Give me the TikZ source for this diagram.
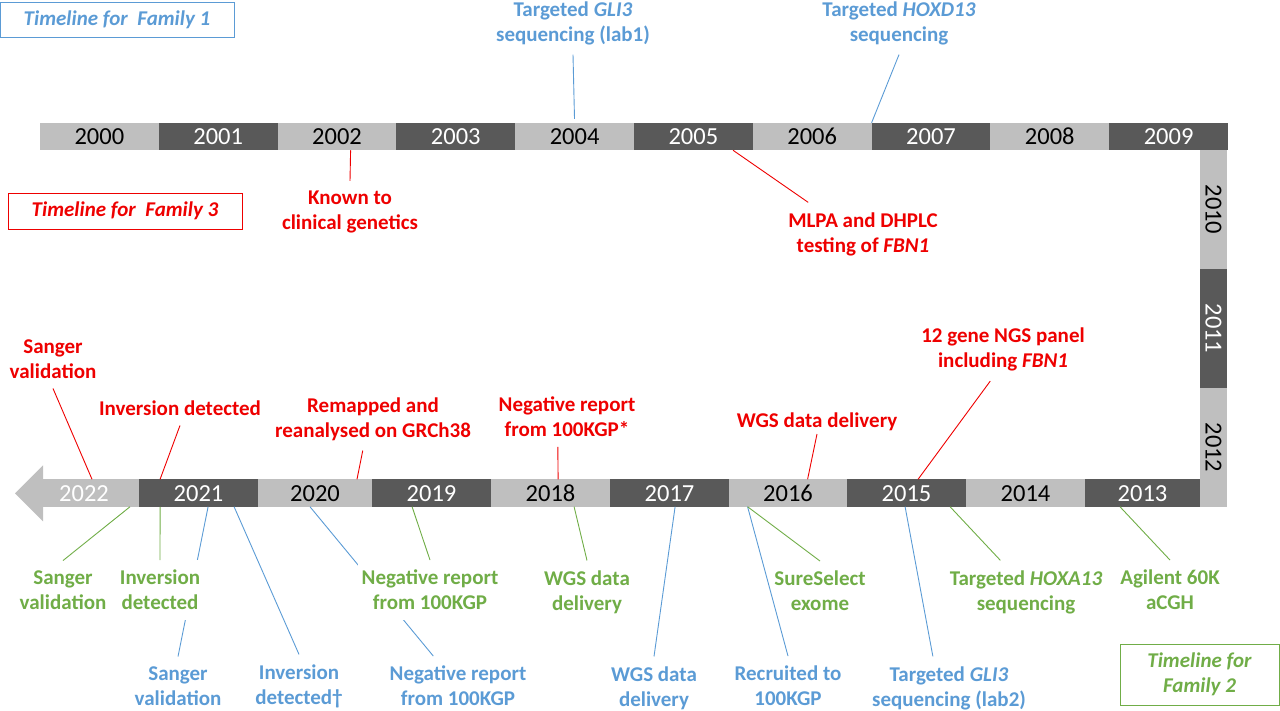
\documentclass[tikz,border=0pt]{standalone}
\usepackage{fontspec}
\setmainfont{Carlito}
\usepackage{tikz}
\definecolor{lgray}{RGB}{191,191,191}
\definecolor{dgray}{RGB}{89,89,89}
\definecolor{famblue}{RGB}{91,155,213}
\definecolor{famred}{RGB}{238,0,0}
\definecolor{famgreen}{RGB}{112,173,71}
\newcommand{\yearfont}{\fontsize{24.5}{28}\selectfont}
\newcommand{\eventfont}{\bfseries\fontsize{21}{25}\selectfont}
\tikzstyle{year}=[inner sep=0, outer sep=0, minimum height=27.5pt, minimum width=118.8pt,
                  text height=16pt, text depth=0pt, font=\yearfont]
\tikzstyle{lyear}=[year, fill=lgray, text=black]
\tikzstyle{dyear}=[year, fill=dgray, text=white]
\tikzstyle{event}=[align=center, inner xsep=4pt, inner ysep=10pt, outer sep=0, font=\eventfont]
\tikzstyle{fam1}=[event, text=famblue]
\tikzstyle{fam2}=[event, text=famgreen]
\tikzstyle{fam3}=[event, text=famred]
\tikzstyle{legendbox}=[draw, line width=1pt, inner sep=0, align=center,
                       font=\bfseries\itshape\fontsize{21}{25}\selectfont]

\begin{document}
\begin{tikzpicture}[x=1pt, y=-1pt,
                    blueline/.style={famblue, line width=0.9pt},
                    greenline/.style={famgreen, line width=0.9pt},
                    redline/.style={famred, line width=0.9pt}]
    \useasboundingbox (0,0) rectangle (1280,710);

    % top row
    \node[lyear] (y2000) at (99.4,136.5) {2000};
    \node[dyear] (y2001) at (218.2,136.5) {2001};
    \node[lyear] (y2002) at (337,136.5) {2002};
    \node[dyear] (y2003) at (455.8,136.5) {2003};
    \node[lyear] (y2004) at (574.6,136.5) {2004};
    \node[dyear] (y2005) at (693.4,136.5) {2005};
    \node[lyear] (y2006) at (812.2,136.5) {2006};
    \node[dyear] (y2007) at (931,136.5) {2007};
    \node[lyear] (y2008) at (1049.8,136.5) {2008};
    \node[dyear] (y2009) at (1168.6,136.5) {2009};
    % right side
    \node[lyear, rotate=-90] (y2010) at (1213.5,209.5) {2010};
    \node[dyear, rotate=-90] (y2011) at (1213.5,328.5) {2011};
    \node[lyear, rotate=-90] (y2012) at (1213.5,447.5) {2012};
    % bottom row
    \node[dyear, minimum width=115pt] (y2013) at (1142.5,493) {2013};
    \node[lyear] (y2014) at (1025.5,493) {2014};
    \node[dyear] (y2015) at (906.5,493) {2015};
    \node[lyear] (y2016) at (788,493) {2016};
    \node[dyear] (y2017) at (669.5,493) {2017};
    \node[lyear] (y2018) at (550.5,493) {2018};
    \node[dyear] (y2019) at (431.5,493) {2019};
    \node[lyear, minimum width=114pt] (y2020) at (315,493) {2020};
    \node[dyear] (y2021) at (198.5,493) {2021};
    \node[lyear, text=white, minimum width=96pt] (y2022) at (91,493) {2022\hspace*{14pt}};
    \fill[lgray] (y2022.north west) -- ++(0,-14) -- ++(-28,28) -- ++(28,28) -- cycle;

    % legends
    \node[legendbox, draw=famblue, text=famblue, minimum width=234pt, minimum height=35pt] (leg1) at (117,19.5) {Timeline for\ \ Family 1};
    \node[legendbox, draw=famred, text=famred, minimum width=234pt, minimum height=36pt] (leg3) at (125,211) {Timeline for\ \ Family 3};
    \node[legendbox, draw=famgreen, text=famgreen, minimum width=159pt, minimum height=61pt] (leg2) at (1199.5,674.5) {Timeline for\\Family 2};

    % family 1
    \node[fam1] (f1gli) at (573,23) {Targeted \textit{GLI3}\\sequencing (lab1)};
    \node[fam1] (f1hox) at (899,23) {Targeted \textit{HOXD13}\\sequencing};
    \node[fam1] (f1sv) at (178,686) {Sanger\\validation};
    \node[fam1] (f1inv) at (299,686) {Inversion\\detected†};
    \node[fam1] (f1neg) at (458,686) {Negative report\\from 100KGP};
    \node[fam1] (f1wgs) at (654,688) {WGS data\\delivery};
    \node[fam1] (f1rec) at (788,686) {Recruited to\\100KGP};
    \node[fam1] (f1gli2) at (949,688) {Targeted \textit{GLI3}\\sequencing (lab2)};

    % family 3
    \node[fam3] (f3known) at (350,212) {Known to\\clinical genetics};
    \node[fam3] (f3mlpa) at (863,234) {MLPA and DHPLC\\testing of \textit{FBN1}};
    \node[fam3] (f3ngs) at (1003,349.5) {12 gene NGS panel\\including \textit{FBN1}};
    \node[fam3, inner ysep=3pt] (f3wgs) at (817,422) {WGS data delivery};
    \node[fam3] (f3neg) at (567,417) {Negative report\\from 100KGP*};
    \node[fam3] (f3remap) at (373,419) {Remapped and\\reanalysed on GRCh38};
    \node[fam3] (f3inv) at (180,408) {Inversion detected};
    \node[fam3] (f3sv) at (53,359) {Sanger\\validation};

    \draw[blueline, shorten <=4pt] (y2004.north) -- (f1gli.south);
    \draw[blueline] (y2007.north west) -- (f1hox.south);
    \draw[blueline] (y2021.south west) ++(69,0) -- (f1sv.north);
    \draw[blueline] (y2021.south west) ++(95,0) -- (f1inv.north);
    \draw[blueline] (y2020.south west) ++(52,0) -- (f1neg);
    \draw[blueline] (y2017.south west) ++(65,0) -- (f1wgs.north);
    \draw[blueline] (y2016.south west) ++(19,0) -- (f1rec.north);
    \draw[blueline] (y2015.south west) ++(58,0) -- (f1gli2.117);

    % family 2
    \node[fam2] (f2sv) at (63,590) {Sanger\\validation};
    \node[fam2, fill=white] (f2inv) at (160,590) {Inversion\\detected};
    \node[fam2, fill=white] (f2neg) at (430,590) {Negative report\\from 100KGP};
    \node[fam2] (f2wgs) at (587,592) {WGS data\\delivery};
    \node[fam2] (f2sure) at (820,591) {SureSelect\\exome};
    \node[fam2] (f2hox) at (1026,592) {Targeted \textit{HOXA13}\\sequencing};
    \node[fam2] (f2agi) at (1170,590) {Agilent 60K\\aCGH};

    \draw[greenline] (y2022.south west) ++(87,0) -- (f2sv.north);
    \draw[greenline] (y2021.south west) ++(21,0) -- (f2inv.north);
    \draw[greenline] (y2019.south west) ++(40,0) -- (f2neg.north);
    \draw[greenline] (y2018.south west) ++(83,0) -- (f2wgs.north);
    \draw[greenline] (y2016.south west) ++(19,0) -- (f2sure.north);
    \draw[greenline] (y2015.south west) ++(103,0) -- (f2hox.129);
    \draw[greenline] (y2013.south west) ++(35,0) -- (f2agi.north);

    \draw[redline] (y2002.south west) ++(73,0) -- (f3known.north);
    \draw[redline] (y2005.south west) ++(99,0) -- (f3mlpa.150);
    \draw[redline] (y2015.north west) ++(71,0) -- (f3ngs.248);
    \draw[redline] (y2016.north west) ++(79,0) -- (f3wgs.south);
    \draw[redline] (y2018.north west) ++(67,0) -- (f3neg.253);
    \draw[redline] (y2020.north west) ++(99,0) -- (f3remap.252);
    \draw[redline] (y2021.north west) ++(21,0) -- (f3inv.south);
    \draw[redline] (y2022.north west) ++(49,0) -- (f3sv.south);
\end{tikzpicture}
\end{document}
